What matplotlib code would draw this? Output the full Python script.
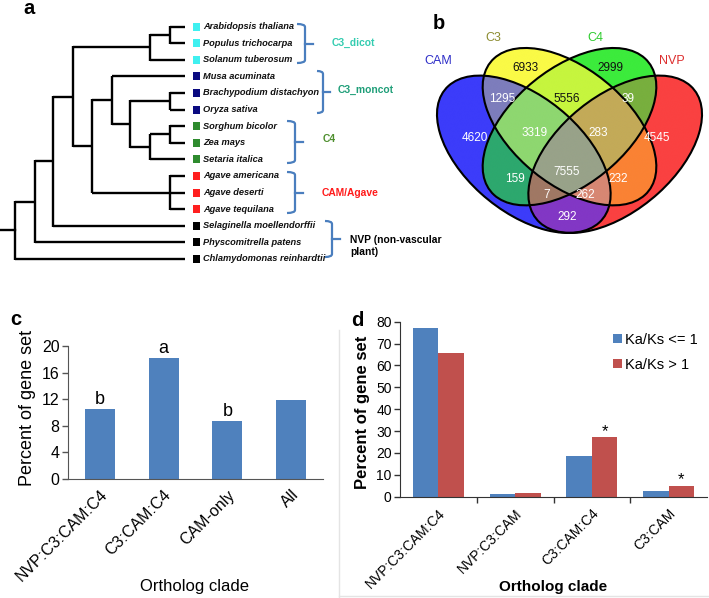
import numpy as np
import matplotlib
matplotlib.use('Agg')
import matplotlib.pyplot as plt
from matplotlib.patches import Ellipse, Rectangle, PathPatch
from matplotlib.path import Path
from matplotlib import font_manager as fm

# ---------------- data ----------------
species = ['Arabidopsis thaliana', 'Populus trichocarpa', 'Solanum tuberosum',
           'Musa acuminata', 'Brachypodium distachyon', 'Oryza sativa',
           'Sorghum bicolor', 'Zea mays', 'Setaria italica',
           'Agave americana', 'Agave deserti', 'Agave tequilana',
           'Selaginella moellendorffii', 'Physcomitrella patens', 'Chlamydomonas reinhardtii']
species_group = [0, 0, 0, 1, 1, 1, 2, 2, 2, 3, 3, 3, 4, 4, 4]
group_labels = ['C3_dicot', 'C3_moncot', 'C4', 'CAM/Agave', 'NVP (non-vascular\nplant)']
# tree topology: (node depth, children); ints are leaf indices
tree = (15, [(35, [(53, [(73, [(150, [(170, [0, 1]), 2]),
                               (92, [(112, [3, (130, [(170, [4, 5]),
                                                      (150, [(170, [6, 7]), 8])])]),
                                     (170, [9, 10, 11])])]),
                         12]),
                   13]),
             14])

venn_sets = ['CAM', 'C3', 'C4', 'NVP']
venn_keys = ['1000', '0100', '0010', '0001', '1100', '0110', '0011', '1010', '0101',
             '1001', '1110', '0111', '1011', '1101', '1111']
venn_counts = [4620, 6933, 2999, 4545, 1295, 5556, 39, 159, 232,
               292, 3319, 283, 7, 262, 7555]

c_cats = ['NVP:C3:CAM:C4', 'C3:CAM:C4', 'CAM-only', 'All']
c_vals = [10.6, 18.2, 8.7, 11.9]
c_letters = ['b', 'a', 'b', '']

d_cats = ['NVP:C3:CAM:C4', 'NVP:C3:CAM', 'C3:CAM:C4', 'C3:CAM']
d_low = [77.2, 1.3, 18.5, 2.7]
d_high = [65.8, 1.5, 27.4, 5.1]
d_stars = ['', '', '*', '*']
d_series = ['Ka/Ks <= 1', 'Ka/Ks > 1']

# ---------------- style ----------------
names = {f.name for f in fm.fontManager.ttflist}
SANS = 'Liberation Sans' if 'Liberation Sans' in names else 'DejaVu Sans'
NARROW = 'Liberation Sans Narrow' if 'Liberation Sans Narrow' in names else SANS
SP_SIZE = 8.0 if NARROW != SANS else 6.7
plt.rcParams['font.family'] = [SANS, 'DejaVu Sans']

W, H = 709, 598
fig = plt.figure(figsize=(W / 100, H / 100), dpi=100)
ax0 = fig.add_axes([0, 0, 1, 1])
ax0.set_xlim(0, W)
ax0.set_ylim(H, 0)
ax0.axis('off')

BLUE = '#4F81BD'
RED = '#C0504D'
sq_colors = ['#3FF0F0', '#0A0A80', '#2E8B2E', '#FF1F1F', '#000000']
grp_colors = ['#33CCB0', '#1E9E78', '#4E8F2E', '#FF1A1A', '#000000']

# ---------------- panel a: tree ----------------
TIP_X = 185
LEAF_Y0, LEAF_DY = 26.5, 16.6


def draw_node(node):
    if isinstance(node, int):
        return TIP_X, LEAF_Y0 + node * LEAF_DY
    depth, children = node
    pts = [draw_node(ch) for ch in children]
    ys = [p[1] for p in pts]
    for cx, cy in pts:
        ax0.plot([depth, cx], [cy, cy], color='k', lw=1.7, solid_capstyle='butt')
    ax0.plot([depth, depth], [min(ys) - 0.8, max(ys) + 0.8], color='k', lw=1.7,
             solid_capstyle='butt')
    return depth, (min(ys) + max(ys)) / 2


rx, ry = draw_node(tree)
ax0.plot([0, rx], [ry, ry], color='k', lw=1.7)

for i, sp in enumerate(species):
    y = LEAF_Y0 + i * LEAF_DY
    ax0.add_patch(Rectangle((192.5, y - 4), 7, 8, color=sq_colors[species_group[i]], lw=0))
    ax0.text(203, y, sp, ha='left', va='center', fontsize=SP_SIZE, fontstyle='italic',
             fontweight='bold', family=[NARROW, 'DejaVu Sans'], color='#111111')

# brackets: x0, x1, tick end, y top, y bottom, label x, label y
brackets = [(297, 305, 313, 24, 63, 332, 43),
            (317, 323, 330, 71, 113, 338, 90),
            (287, 295, 303, 121, 163, 323, 139),
            (287, 295, 303, 172, 213, 322, 193),
            (325, 332, 340, 221, 257, 350, 246)]
for g, (x0, x1, xt, y0, y1, lx, ly) in enumerate(brackets):
    r = 3
    verts = [(x0, y0), (x1, y0), (x1, y0 + r), (x1, y1 - r), (x1, y1), (x0, y1)]
    codes = [Path.MOVETO, Path.CURVE3, Path.CURVE3, Path.LINETO, Path.CURVE3, Path.CURVE3]
    ax0.add_patch(PathPatch(Path(verts, codes), fill=False, ec='#4A7EBE', lw=1.6))
    ym = (y0 + y1) / 2
    ax0.plot([x1, xt], [ym, ym], color='#4A7EBE', lw=1.6)
    ax0.text(lx, ly, group_labels[g], ha='left', va='center', fontsize=7.4,
             fontweight='bold', color=grp_colors[g], linespacing=1.15)

# ---------------- panel b: venn ----------------
# ellipse geometry (venn units): centre x, centre y, semi-axis a, semi-axis b, angle
ell = [(0.35, 0.47, 0.35, 0.2, 135), (0.5, 0.57, 0.35, 0.2, 135),
       (0.5, 0.57, 0.35, 0.2, 45), (0.65, 0.47, 0.35, 0.2, 45)]
VX0, VX1, VY0, VY1 = 0.01, 0.955, 0.15, 0.93
SX, SY = 304.6, 276.0


def v2px(x, y):
    return 437 + (x - 0.065) * SX, 48 + (0.855 - y) * SY


def px2v(px, py):
    return 0.065 + (px - 437) / SX, 0.855 - (py - 48) / SY


pl, pt = v2px(VX0, VY1)
pr, pb = v2px(VX1, VY0)
axv = fig.add_axes([pl / W, 1 - pb / H, (pr - pl) / W, (pb - pt) / H])
axv.set_xlim(VX0, VX1)
axv.set_ylim(VY0, VY1)
axv.axis('off')

region_colors = {'1000': (60, 60, 250), '0100': (250, 250, 70), '0010': (60, 235, 60),
                 '0001': (250, 65, 65), '1100': (125, 125, 188), '0110': (198, 245, 62),
                 '0011': (120, 175, 62), '1010': (45, 168, 110), '0101': (250, 130, 52),
                 '1001': (130, 55, 197), '1110': (142, 215, 112), '0111': (195, 170, 88),
                 '1011': (160, 120, 100), '1101': (215, 135, 115), '1111': (152, 162, 137)}
nx, ny = 1000, 800
gx = np.linspace(VX0, VX1, nx)
gy = np.linspace(VY0, VY1, ny)
XX, YY = np.meshgrid(gx, gy)
member = []
for cx, cy, a, b, ang in ell:
    t = np.deg2rad(ang)
    dx, dy = XX - cx, YY - cy
    u = dx * np.cos(t) + dy * np.sin(t)
    v = -dx * np.sin(t) + dy * np.cos(t)
    member.append((u / a) ** 2 + (v / b) ** 2 <= 1)
img = np.zeros((ny, nx, 4))
for key, col in region_colors.items():
    mask = np.ones((ny, nx), bool)
    for k, ch in enumerate(key):
        mask &= member[k] if ch == '1' else ~member[k]
    img[mask, :3] = np.array(col) / 255
    img[mask, 3] = 1
axv.imshow(img, extent=(VX0, VX1, VY0, VY1), origin='lower', aspect='auto',
           interpolation='bilinear', zorder=1)
for cx, cy, a, b, ang in ell:
    axv.add_patch(Ellipse((cx, cy), 2 * a, 2 * b, angle=ang, fill=False, ec='k',
                          lw=1.5, zorder=2))

venn_label_px = {'1000': (475, 138), '0100': (525, 68), '0010': (610, 68), '0001': (657, 138),
                 '1100': (502, 99), '0110': (567, 99), '0011': (628, 99), '1010': (515, 179),
                 '0101': (618, 179), '1001': (567, 217), '1110': (535, 133),
                 '0111': (598, 133), '1011': (547, 195), '1101': (585, 195),
                 '1111': (567, 172)}
dark_text = {'0100', '0010', '0110'}
for key, cnt in zip(venn_keys, venn_counts):
    x, y = px2v(*venn_label_px[key])
    axv.text(x, y, str(cnt), ha='center', va='center', fontsize=8.5, zorder=3,
             color='#111111' if key in dark_text else 'white')

set_label_px = [(438, 61), (493, 38), (595, 38), (672, 61)]
set_colors = ['#2E2EC8', '#8C8C30', '#2ECC2E', '#DD2E2E']
for s, (px, py), col in zip(venn_sets, set_label_px, set_colors):
    x, y = px2v(px, py)
    axv.text(x, y, s, ha='center', va='center', fontsize=9, color=col, zorder=3)

# ---------------- panel c ----------------
axc = fig.add_axes([68 / W, 1 - 479 / H, 255 / W, 133 / H])
axc.set_facecolor('none')
xc = np.arange(len(c_cats))
axc.bar(xc, c_vals, width=0.47, color=BLUE)
axc.set_xlim(-0.5, len(c_cats) - 0.5)
axc.set_ylim(0, 20)
axc.set_yticks(np.arange(0, 21, 4))
axc.set_xticks(xc)
axc.set_xticklabels(c_cats, rotation=45, ha='right', va='top', rotation_mode='anchor',
                    fontsize=11.5)
axc.tick_params(axis='x', length=0, pad=6)
axc.tick_params(axis='y', length=4, width=1, labelsize=11.5, color='#555555', pad=2)
for s in ['top', 'right']:
    axc.spines[s].set_visible(False)
for s in ['left', 'bottom']:
    axc.spines[s].set_color('#555555')
for i, (v, l) in enumerate(zip(c_vals, c_letters)):
    if l:
        axc.text(i, v + 0.7, l, ha='center', va='baseline', fontsize=13)
ax0.text(28, 408, 'Percent of gene set', rotation=90, ha='center', va='center', fontsize=13)
ax0.text(195, 587, 'Ortholog clade', ha='center', va='center', fontsize=12)

# ---------------- panel d ----------------
axd = fig.add_axes([400 / W, 1 - 496.7 / H, 307 / W, 175 / H])
axd.set_facecolor('none')
xd = np.arange(len(d_cats))
bw = 0.333
axd.bar(xd - bw / 2, d_low, bw, color=BLUE, label=d_series[0])
axd.bar(xd + bw / 2, d_high, bw, color=RED, label=d_series[1])
axd.set_xlim(-0.5, len(d_cats) - 0.5)
axd.set_ylim(0, 80)
axd.set_yticks(np.arange(0, 81, 10))
axd.set_xticks(xd)
axd.set_xticklabels(d_cats, rotation=45, ha='right', va='top', rotation_mode='anchor',
                    fontsize=10)
axd.set_xticks(xd[:-1] + 0.5, minor=True)
axd.tick_params(axis='x', which='major', length=0, pad=7)
axd.tick_params(axis='x', which='minor', length=4, width=1, color='#333333')
axd.tick_params(axis='y', length=4, width=1, labelsize=10, color='#333333', pad=2)
for s in ['top', 'right']:
    axd.spines[s].set_visible(False)
for s in ['left', 'bottom']:
    axd.spines[s].set_color('#333333')
for i, (v, s) in enumerate(zip(d_high, d_stars)):
    if s:
        axd.text(i + bw / 2, v + 0.5, s, ha='center', va='baseline', fontsize=12)
axd.legend(loc='upper left', bbox_to_anchor=((613 - 400) / 307, (496.7 - 333) / 175),
           frameon=False, fontsize=10.5, handlelength=0.6, handleheight=0.6,
           handletextpad=0.25, labelspacing=0.75, borderpad=0, borderaxespad=0)
ax0.text(362, 412, 'Percent of gene set', rotation=90, ha='center', va='center',
         fontsize=12, fontweight='bold')
ax0.text(553, 587, 'Ortholog clade', ha='center', va='center', fontsize=11,
         fontweight='bold')
ax0.plot([339, 339], [330, 598], color='#E4E4E4', lw=1)
ax0.plot([339, 709], [596, 596], color='#E4E4E4', lw=1)

# ---------------- panel letters ----------------
for lt, (px, py) in zip('abcd', [(29.5, 14), (439, 29), (16, 325), (357, 326)]):
    ax0.text(px, py, lt, ha='center', va='baseline', fontsize=14.5, fontweight='bold')

fig.savefig('out.png', dpi=100)
